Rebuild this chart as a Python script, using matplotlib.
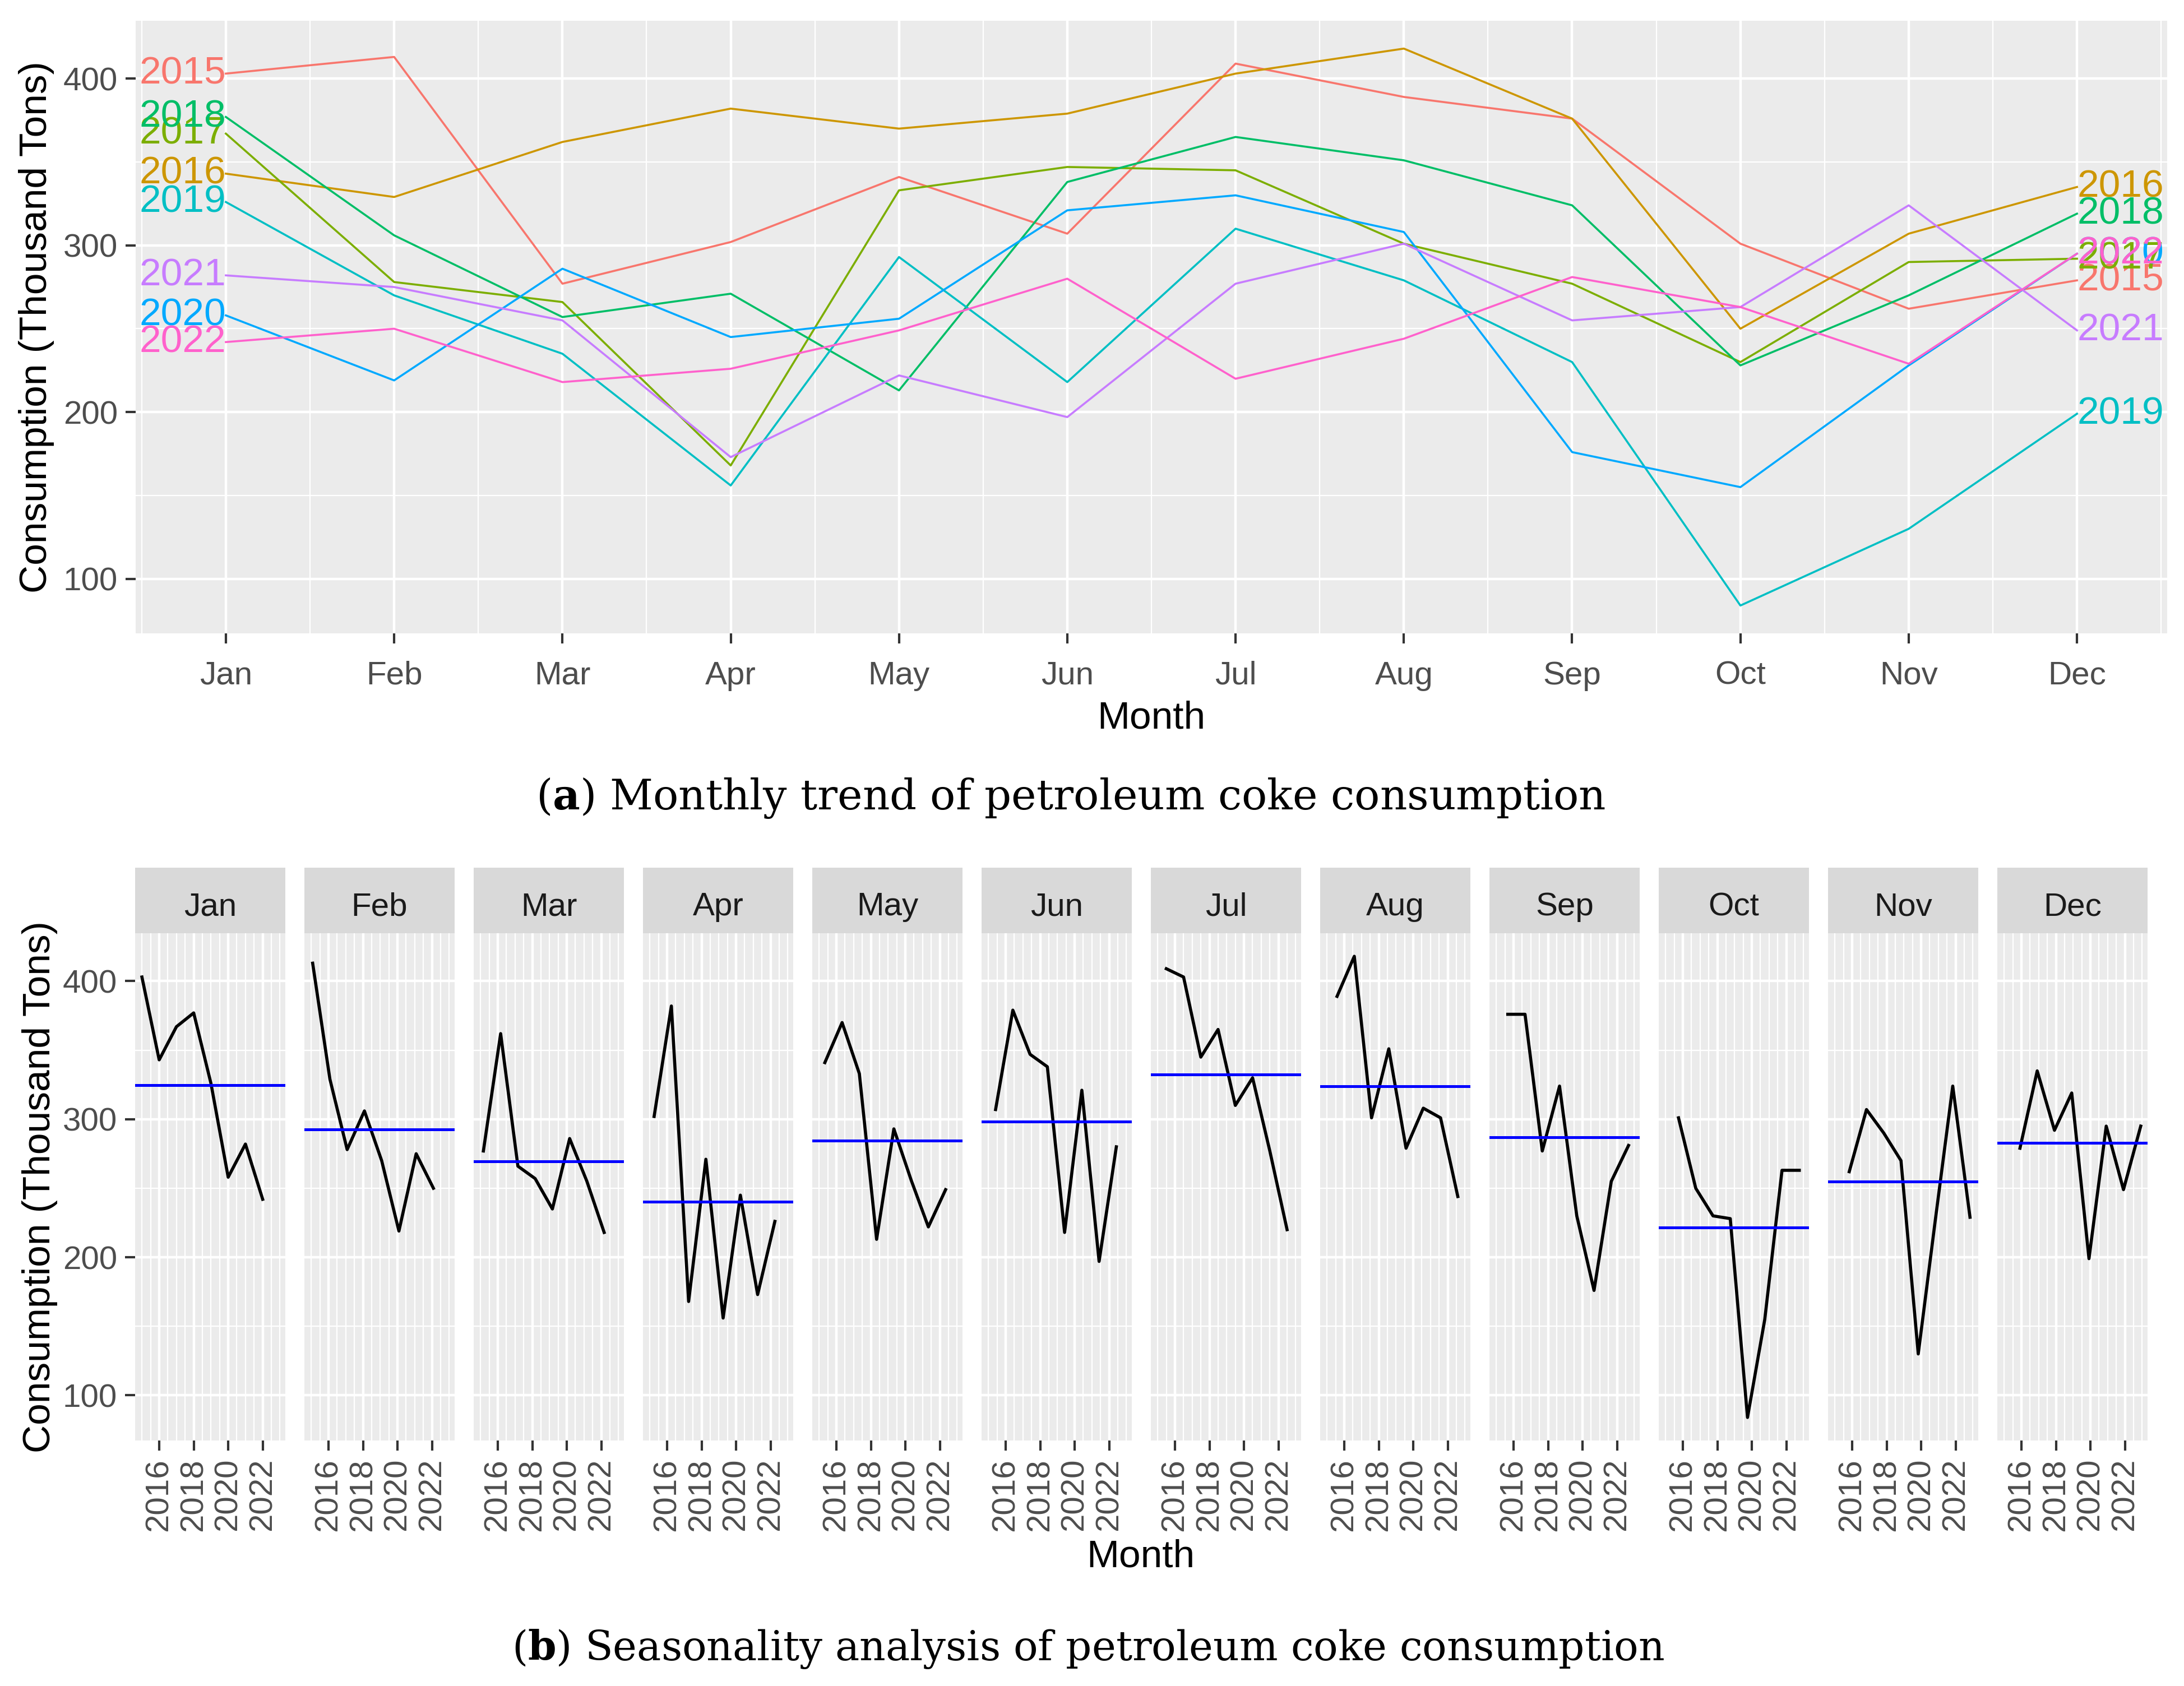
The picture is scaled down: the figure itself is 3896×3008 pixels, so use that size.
import matplotlib
matplotlib.use('Agg')
import matplotlib.pyplot as plt
from matplotlib.ticker import FixedLocator
import numpy as np

plt.rcParams['font.family'] = ['Liberation Sans', 'DejaVu Sans']
plt.rcParams['mathtext.fontset'] = 'dejavuserif'

# ---------------- data ----------------
years = [2015, 2016, 2017, 2018, 2019, 2020, 2021, 2022]
months = ['Jan', 'Feb', 'Mar', 'Apr', 'May', 'Jun', 'Jul', 'Aug', 'Sep', 'Oct', 'Nov', 'Dec']
c2015 = [403, 413, 277, 302, 341, 307, 409, 389, 376, 301, 262, 279]
c2016 = [343, 329, 362, 382, 370, 379, 403, 418, 376, 250, 307, 335]
c2017 = [367, 278, 266, 168, 333, 347, 345, 301, 277, 230, 290, 292]
c2018 = [377, 306, 257, 271, 213, 338, 365, 351, 324, 228, 270, 319]
c2019 = [326, 270, 235, 156, 293, 218, 310, 279, 230, 84, 130, 199]
c2020 = [258, 219, 286, 245, 256, 321, 330, 308, 176, 155, 228, 295]
c2021 = [282, 275, 255, 173, 222, 197, 277, 301, 255, 263, 324, 249]
c2022 = [242, 250, 218, 226, 249, 280, 220, 244, 281, 263, 229, 295]
series = [c2015, c2016, c2017, c2018, c2019, c2020, c2021, c2022]
year_colors = ['#F8766D', '#CD9600', '#7CAE00', '#00BE67', '#00BFC4', '#00A9FF', '#C77CFF', '#FF61CC']
year_ticks = [2016, 2018, 2020, 2022]
ytick_vals = [100, 200, 300, 400]
ylabel = 'Consumption (Thousand Tons)'
xlabel = 'Month'
cap_a_bold, cap_a = 'a', ' Monthly trend of petroleum coke consumption'
cap_b_bold, cap_b = 'b', ' Seasonality analysis of petroleum coke consumption'

# ---------------- figure ----------------
W, H = 3896, 3008
DPI = 100
fig = plt.figure(figsize=(W / DPI, H / DPI), dpi=DPI)
fig.patch.set_facecolor('white')


def box(l, t, r, b):
    return [l / W, 1 - b / H, (r - l) / W, (b - t) / H]


PANEL = '#EBEBEB'
TICKC = '#4D4D4D'
TICKMARK = '#333333'
TICKFS = 42
TITLEFS = 50

data = np.array(series, dtype=float)  # (years, months)
vmin, vmax = data.min(), data.max()
pad = 0.05 * (vmax - vmin)
ylim = (vmin - pad, vmax + pad)


def style(ax):
    ax.set_facecolor(PANEL)
    for s in ax.spines.values():
        s.set_visible(False)
    ax.set_axisbelow(True)
    ax.grid(which='major', color='white', lw=3.2)
    ax.grid(which='minor', color='white', lw=1.6)
    ax.tick_params(which='major', length=13, width=3, color=TICKMARK,
                   labelsize=TICKFS, labelcolor=TICKC, pad=10)
    ax.tick_params(which='minor', length=0)


# ---------------- (a) seasonal plot ----------------
ax = fig.add_axes(box(242, 37, 3866, 1130))
style(ax)
mx = np.arange(1, 13)
for yr, vals, col in zip(years, series, year_colors):
    ax.plot(mx, vals, color=col, lw=2.6, zorder=3)
for yr, vals, col in zip(years, series, year_colors):
    ax.text(1, vals[0], str(yr), ha='right', va='center', color=col,
            fontsize=TITLEFS, zorder=4)
    ax.text(12, vals[-1], str(yr), ha='left', va='center', color=col,
            fontsize=TITLEFS, zorder=4)
ax.set_xlim(0.464, 12.536)
ax.set_ylim(ylim)
ax.set_xticks(mx)
ax.set_xticklabels(months)
ax.xaxis.set_minor_locator(FixedLocator(np.arange(0.5, 13.0, 1.0)))
ax.set_yticks(ytick_vals)
ax.yaxis.set_minor_locator(FixedLocator([150, 250, 350]))
ax.tick_params(axis='x', pad=22)

fig.text(65 / W, 1 - (37 + 1130) / 2 / H, ylabel, rotation=90, ha='center',
         va='center', fontsize=TITLEFS)
fig.text(2054 / W, 1 - 1282 / H, xlabel, ha='center', va='center', fontsize=TITLEFS)

# ---------------- (b) subseries plot ----------------
pw, gap = 268, 34
left0 = 241
t_strip, t_panel, b_panel = 1548, 1665, 2570
x_first = years[0]
x_last = years[-1] + 11 / 12
R = x_last - x_first
xlim = (x_first - 0.05 * R, x_last + 0.05 * R)

for m in range(12):
    l = left0 + m * (pw + gap)
    axb = fig.add_axes(box(l, t_panel, l + pw, b_panel))
    style(axb)
    xs = np.array(years) + m / 12
    col = data[:, m]
    axb.plot(xs, col, color='black', lw=4.0, zorder=3)
    axb.axhline(col.mean(), color='blue', lw=3.6, zorder=3)
    axb.set_xlim(xlim)
    axb.set_ylim(ylim)
    axb.set_xticks(year_ticks)
    axb.set_xticklabels([str(y) for y in year_ticks], rotation=90, va='top', ha='center')
    minors = [v for v in np.arange(2014.5, 2024.0, 0.5) if v not in year_ticks]
    axb.xaxis.set_minor_locator(FixedLocator(minors))
    axb.set_yticks(ytick_vals)
    axb.yaxis.set_minor_locator(FixedLocator([150, 250, 350]))
    if m != 0:
        axb.tick_params(axis='y', which='major', length=0, labelleft=False)
    sax = fig.add_axes(box(l, t_strip, l + pw, t_panel))
    sax.set_facecolor('#D9D9D9')
    for s in sax.spines.values():
        s.set_visible(False)
    sax.set_xticks([])
    sax.set_yticks([])
    sax.text(0.5, 0.40, months[m], ha='center', va='center', fontsize=TICKFS,
             color='#1A1A1A', transform=sax.transAxes)

fig.text(71 / W, 1 - (t_panel + b_panel) / 2 / H, ylabel, rotation=90, ha='center',
         va='center', fontsize=TITLEFS)
fig.text(2035 / W, 1 - 2778 / H, xlabel, ha='center', va='center', fontsize=TITLEFS)

# ---------------- captions ----------------
renderer = fig.canvas.get_renderer()


def caption(xc, yc, bold, rest, target_w):
    s = r'(' + r'$\mathbf{' + bold + r'}$' + r')' + rest
    t = fig.text(xc / W, 1 - yc / H, s, ha='center', va='center', fontsize=50,
                 family='DejaVu Serif')
    w = t.get_window_extent(renderer).width
    t.set_fontsize(50 * target_w / w)


caption(1910, 1424, cap_a_bold, cap_a, 1911)
caption(1941, 2942, cap_b_bold, cap_b, 2058)

fig.savefig('out.png', dpi=DPI, facecolor='white')
